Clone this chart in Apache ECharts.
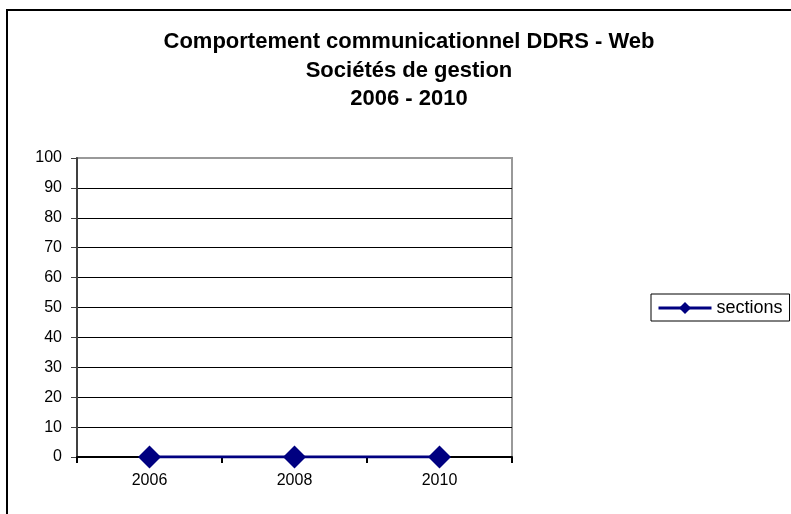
<!DOCTYPE html>
<html>
<head>
<meta charset="utf-8">
<script src="https://cdn.jsdelivr.net/npm/echarts@6/dist/echarts.min.js"></script>
<style>html,body{margin:0;padding:0;background:#fff;}#c{width:791px;height:514px;}</style>
</head>
<body>
<div id="c"></div>
<script>
var titleLines = ['Comportement communicationnel DDRS - Web', 'Sociétés de gestion', '2006 - 2010'];
var categories = ['2006', '2008', '2010'];
var sectionsValues = [0, 0, 0];
var seriesName = 'sections';
var yMin = 0, yMax = 100, yInterval = 10;

var chart = echarts.init(document.getElementById('c'));
var splitColors = [];
for (var i = 0; i <= 10; i++) splitColors.push(i === 10 ? '#999999' : '#000000');
chart.setOption({
  animation: false,
  backgroundColor: '#ffffff',
  textStyle: { fontFamily: 'Liberation Sans, Arial, sans-serif' },
  title: {
    text: titleLines.join('\n'),
    left: 404,
    top: 23,
    textAlign: 'center',
    textStyle: { fontFamily: 'Liberation Sans, Arial, sans-serif', fontSize: 22, fontWeight: 'bold', color: '#000', lineHeight: 28.5 }
  },
  legend: {
    data: [seriesName],
    orient: 'vertical',
    left: 651,
    top: 294,
    padding: [5, 7, 4, 6],
    borderColor: '#000',
    borderWidth: 1,
    itemWidth: 53,
    itemHeight: 15,
    lineStyle: { width: 3 },
    textStyle: { fontFamily: 'Liberation Sans, Arial, sans-serif', fontSize: 18, color: '#000' }
  },
  graphic: [{
    type: 'rect', silent: true, z: 100,
    shape: { x: 7, y: 10, width: 800, height: 520 },
    style: { fill: 'none', stroke: '#000', lineWidth: 2 }
  }],
  grid: {
    left: 77, right: 279, top: 158, bottom: 57,
    show: true, borderColor: '#999999', borderWidth: 2, backgroundColor: 'transparent'
  },
  xAxis: {
    type: 'category',
    data: categories,
    boundaryGap: true,
    axisLine: { lineStyle: { color: '#000', width: 2 } },
    axisTick: { show: true, alignWithLabel: false, length: 6, lineStyle: { color: '#000', width: 2 } },
    axisLabel: { fontSize: 16, color: '#000', margin: 16 },
    splitLine: { show: false }
  },
  yAxis: {
    type: 'value',
    min: yMin, max: yMax, interval: yInterval,
    axisLine: { show: true, lineStyle: { color: '#404040', width: 2 } },
    axisTick: { show: true, length: 6, lineStyle: { color: '#404040', width: 1 } },
    axisLabel: { fontSize: 16, color: '#000', margin: 15 },
    splitLine: { show: true, lineStyle: { color: splitColors, width: 1 } }
  },
  series: [{
    name: seriesName,
    type: 'line',
    data: sectionsValues,
    symbol: 'diamond',
    symbolSize: 23,
    lineStyle: { color: '#000080', width: 3 },
    itemStyle: { color: '#000080' },
    z: 5
  }]
});
</script>
</body>
</html>
